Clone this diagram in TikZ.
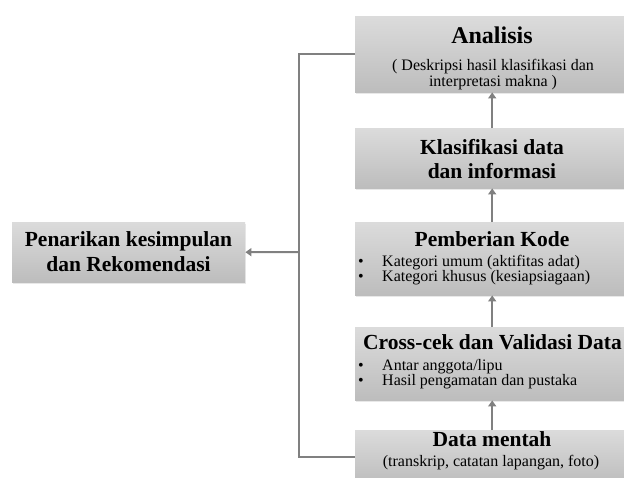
\documentclass[tikz,border=0pt]{standalone}
\usepackage{fontspec}
\setmainfont{Liberation Serif}
\usetikzlibrary{arrows.meta,shadows}
\definecolor{linegray}{HTML}{808080}
\begin{document}
\begin{tikzpicture}[x=1pt,y=-1pt,
  box/.style={draw=none,top color=gray!28,bottom color=gray!52,anchor=north west,inner sep=0pt,
    drop shadow={opacity=0.18,shadow xshift=1.2pt,shadow yshift=-1.5pt}},
  ttl/.style={font=\fontsize{21.5}{24}\selectfont\bfseries,anchor=base,inner sep=0pt},
  txt/.style={font=\fontsize{16}{18}\selectfont,anchor=base,inner sep=0pt},
  bl/.style={font=\fontsize{16}{18}\selectfont,anchor=base west,inner sep=0pt},
  conn/.style={draw=linegray,line width=2pt},
  arr/.style={conn,-{Triangle[length=6pt,width=8pt]}}]
\useasboundingbox (0,0) rectangle (624,477);
\begin{scope}
\clip (0,0) rectangle (624,477);
% boxes
\node[box,minimum width=274pt,minimum height=76pt] (ana) at (355,16) {};
\node[box,minimum width=274pt,minimum height=60pt] (kla) at (355,128) {};
\node[box,minimum width=274pt,minimum height=73pt] (pem) at (355,222) {};
\node[box,minimum width=274pt,minimum height=73pt] (crs) at (355,327) {};
\node[box,minimum width=274pt,minimum height=54pt] (dat) at (355,430) {};
\node[box,minimum width=233pt,minimum height=60pt] (pen) at (12,222) {};
% texts
\node[ttl,font=\fontsize{24}{26}\selectfont\bfseries] (anaT) at (492,43) {Analisis};
\node[txt] (anaA) at (493,70) {( Deskripsi hasil klasifikasi dan};
\node[txt] (anaB) at (493,86.5) {interpretasi makna )};
\node[ttl] (klaA) at (492,154.5) {Klasifikasi data};
\node[ttl] (klaB) at (492,178) {dan informasi};
\node[ttl] (pemT) at (492,246.5) {Pemberian Kode};
\node[bl] (pemD1) at (358,266.7) {\textbullet};
\node[bl] (pemA) at (382,266.7) {Kategori umum (aktifitas adat)};
\node[bl] (pemD2) at (358,281.7) {\textbullet};
\node[bl] (pemB) at (382,281.7) {Kategori khusus (kesiapsiagaan)};
\node[ttl,anchor=base west] (crsT) at (363,349.5) {Cross-cek dan Validasi Data};
\node[bl] (crsD1) at (358,370) {\textbullet};
\node[bl] (crsA) at (382,370) {Antar anggota/lipu};
\node[bl] (crsD2) at (358,385) {\textbullet};
\node[bl] (crsB) at (382,385) {Hasil pengamatan dan pustaka};
\node[ttl] (datT) at (492,446) {Data mentah};
\node[txt] (datA) at (491,466.7) {(transkrip, catatan lapangan, foto)};
\node[ttl] (penA) at (128.5,246.5) {Penarikan kesimpulan};
\node[ttl] (penB) at (128.5,271.5) {dan Rekomendasi};
% connectors
\draw[arr] (dat.north) -- (crs.south);
\draw[arr] (crs.north) -- (pem.south);
\draw[arr] (pem.north) -- (kla.south);
\draw[arr] (kla.north) -- (ana.south);
\coordinate (spine) at (299,252);
\draw[conn,line join=miter] (ana.west) -| (spine) |- (dat.west);
\draw[arr] (spine) -- (pen.east);
\end{scope}
\end{tikzpicture}
\end{document}
